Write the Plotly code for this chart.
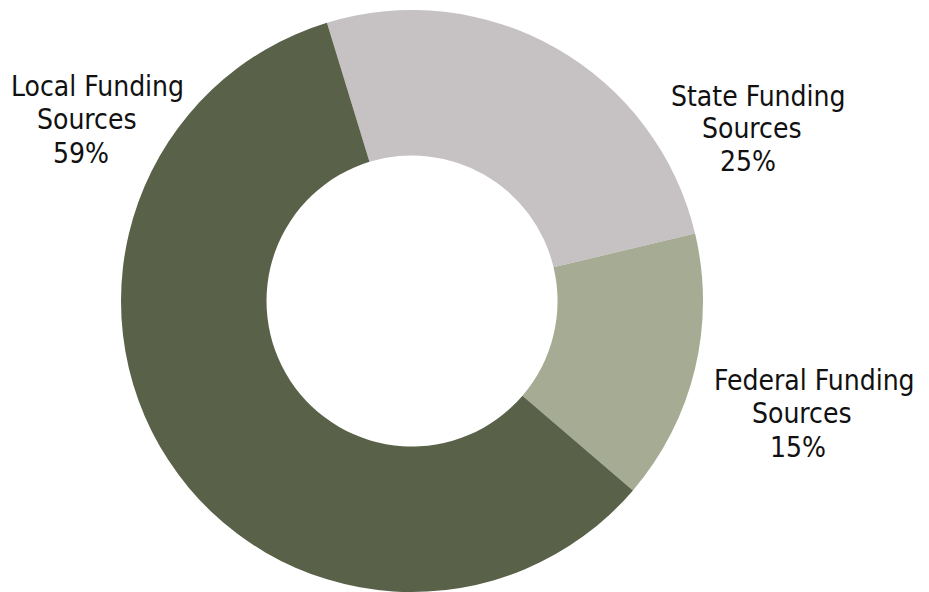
import plotly.graph_objects as go

# Data (order: clockwise from the top)
categories = ["State Funding Sources", "Federal Funding Sources", "Local Funding Sources"]
label_lines = [["State Funding", "Sources"], ["Federal Funding", "Sources"], ["Local Funding", "Sources"]]
slice_values = [26, 15, 59]          # slice sizes as drawn
pct_labels = ["25%", "15%", "59%"]   # percentages as printed
colors = ["#c6c2c3", "#a6ab93", "#596149"]

W, H = 929, 592
OFF = 8  # default page body margin in the written html
FONT = "DejaVu Sans Condensed, Liberation Sans Narrow, sans-serif"


def px_x(x):
    return (x - OFF) / W


def px_y(y):
    return 1 - (y - OFF) / H


fig = go.Figure()
fig.add_trace(go.Pie(
    labels=categories,
    values=slice_values,
    hole=0.5,
    sort=False,
    direction="clockwise",
    rotation=-17,
    marker=dict(colors=colors, line=dict(width=0)),
    textinfo="none",
    hoverinfo="label",
    showlegend=False,
    domain=dict(x=[px_x(121), px_x(703)], y=[px_y(592), px_y(10)]),
))

# per-line centre positions in page pixels
line_pos = [
    [(758, 96), (752, 128), (748, 161)],
    [(814, 380), (802, 413), (798, 447)],
    [(97, 86), (87, 119), (81, 153)],
]
annotations = []
for pos, lines, p in zip(line_pos, label_lines, pct_labels):
    texts = lines + [p]
    for (cx, cy), t in zip(pos, texts):
        annotations.append(dict(
            x=px_x(cx), y=px_y(cy), xref="paper", yref="paper",
            text=t, showarrow=False, xanchor="center", yanchor="middle",
            font=dict(family=FONT, size=28, color="#111111"),
        ))

fig.update_layout(
    width=W, height=H,
    margin=dict(l=0, r=0, t=0, b=0),
    paper_bgcolor="white", plot_bgcolor="white",
    annotations=annotations,
)
fig.write_html("out.html")
